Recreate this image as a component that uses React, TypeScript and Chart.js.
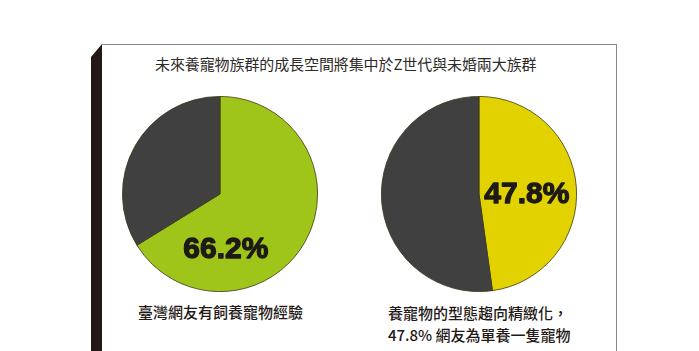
import React, { useEffect, useRef } from "react";
import { Chart, registerables } from "chart.js";

Chart.register(...registerables);

const titleText = "未來養寵物族群的成長空間將集中於Z世代與未婚兩大族群";

const leftCategories = ["有飼養寵物經驗", "其他"];
const leftValues = [66.2, 33.8];
const leftColors = ["#A0C51A", "#404040"];
const leftCaption = ["臺灣網友有飼養寵物經驗"];

const rightCategories = ["單養一隻寵物", "其他"];
const rightValues = [47.8, 52.2];
const rightColors = ["#E2D200", "#404040"];
const rightCaption = ["養寵物的型態趨向精緻化，", "47.8% 網友為單養一隻寵物"];

type PieProps = {
  labels: string[];
  values: number[];
  colors: string[];
  left: number;
  top: number;
  size: number;
  labelDx: number;
  labelDy: number;
};

const centerLabelPlugin = {
  id: "centerLabel",
  afterDatasetsDraw(chart: any, _args: any, opts: any) {
    const meta = chart.getDatasetMeta(0);
    const arc = meta.data[0];
    if (!arc) return;
    const { x, y, outerRadius } = arc.getProps(["x", "y", "outerRadius"], true);
    const v = chart.data.datasets[0].data[0];
    const ctx = chart.ctx;
    const tx = x + opts.dx * outerRadius;
    const ty = y + opts.dy * outerRadius;
    const txt = v.toFixed(1) + "%";
    ctx.save();
    ctx.font = "bold 30px 'Liberation Sans', Arial, sans-serif";
    ctx.fillStyle = "#1d1a16";
    ctx.strokeStyle = "#1d1a16";
    ctx.lineWidth = 1.3;
    ctx.lineJoin = "round";
    ctx.textAlign = "center";
    ctx.textBaseline = "middle";
    ctx.strokeText(txt, tx, ty);
    ctx.fillText(txt, tx, ty);
    ctx.restore();
  },
};

function Pie({ labels, values, colors, left, top, size, labelDx, labelDy }: PieProps) {
  const ref = useRef<HTMLCanvasElement | null>(null);
  useEffect(() => {
    if (!ref.current) return;
    const chart = new Chart(ref.current, {
      type: "pie",
      data: {
        labels,
        datasets: [
          {
            data: values,
            backgroundColor: colors,
            borderColor: "#3a3a18",
            borderWidth: 0.8,
          },
        ],
      },
      options: {
        animation: false,
        responsive: false,
        maintainAspectRatio: false,
        layout: { padding: 0 },
        plugins: {
          legend: { display: false },
          tooltip: { enabled: false },
          centerLabel: { dx: labelDx, dy: labelDy },
        } as any,
      },
      plugins: [centerLabelPlugin],
    });
    return () => chart.destroy();
  }, []);
  return (
    <canvas
      ref={ref}
      width={size}
      height={size}
      style={{ position: "absolute", left, top, width: size, height: size }}
    />
  );
}

const cjk = "'Noto Sans CJK TC', 'Noto Sans CJK SC', sans-serif";

export default function App() {
  useEffect(() => {
    document.body.style.margin = "0";
  }, []);
  return (
    <div
      style={{
        position: "relative",
        width: 699,
        height: 351,
        overflow: "hidden",
        background: "#ffffff",
      }}
    >
      {/* black side shadow */}
      <div
        style={{
          position: "absolute",
          left: 91,
          top: 44,
          width: 12,
          height: 320,
          background: "#231815",
          clipPath: "polygon(0 13px, 11px 0, 12px 0, 12px 100%, 0 100%)",
        }}
      />
      {/* white box with grey border */}
      <div
        style={{
          position: "absolute",
          left: 102,
          top: 44,
          width: 514,
          height: 330,
          borderTop: "1.5px solid #8c8888",
          borderRight: "1.5px solid #8c8888",
          background: "#ffffff",
        }}
      />
      <div
        style={{
          position: "absolute",
          left: 155,
          top: 54,
          fontFamily: cjk,
          fontSize: 15,
          lineHeight: "20px",
          color: "#2e2a28",
          whiteSpace: "nowrap",
          letterSpacing: -0.1,
        }}
      >
        {titleText}
      </div>
      <Pie
        labels={leftCategories}
        values={leftValues}
        colors={leftColors}
        left={122}
        top={96}
        size={196}
        labelDx={0.06}
        labelDy={0.57}
      />
      <Pie
        labels={rightCategories}
        values={rightValues}
        colors={rightColors}
        left={381}
        top={96}
        size={196}
        labelDx={0.49}
        labelDy={0.01}
      />
      <div
        style={{
          position: "absolute",
          left: 138,
          top: 301,
          fontFamily: cjk,
          fontSize: 15,
          fontWeight: 500,
          lineHeight: "21px",
          color: "#231815",
          whiteSpace: "nowrap",
        }}
      >
        {leftCaption.map((t, i) => (
          <div key={i}>{t}</div>
        ))}
      </div>
      <div
        style={{
          position: "absolute",
          left: 388,
          top: 302,
          fontFamily: cjk,
          fontSize: 15,
          fontWeight: 500,
          lineHeight: "22px",
          color: "#231815",
          whiteSpace: "nowrap",
        }}
      >
        {rightCaption.map((t, i) => (
          <div key={i}>{t}</div>
        ))}
      </div>
    </div>
  );
}
